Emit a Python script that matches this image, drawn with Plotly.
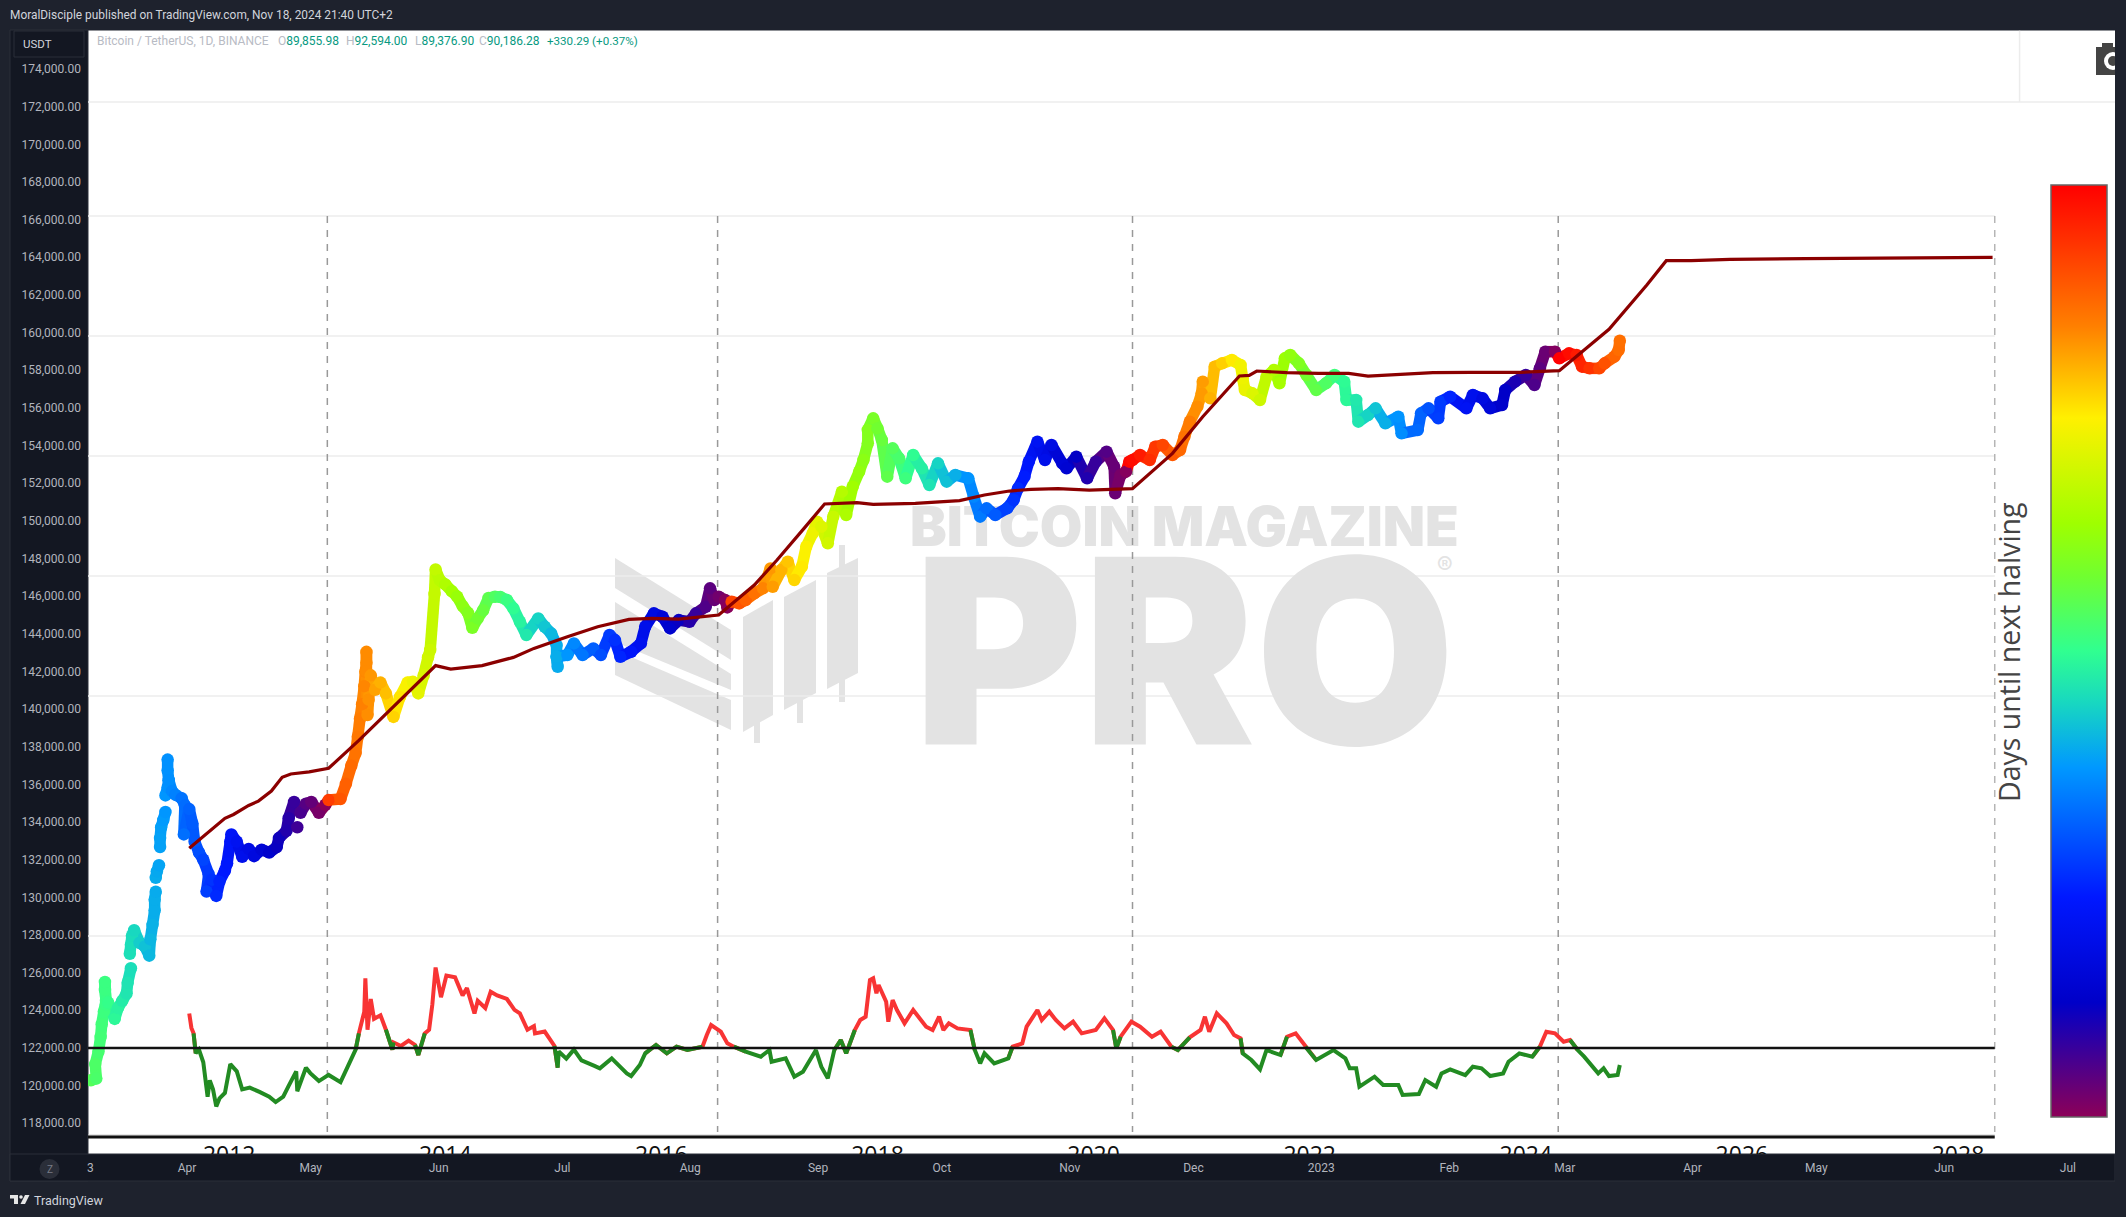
import plotly.graph_objects as go
from plotly.colors import sample_colorscale

W, H = 2126, 1217
GAP = (None, None)

# ---------- data (decimal year, value on the chart's price axis) ----------
btc_cycle1 = [(2010.72,120280),(2010.77,120370),(2010.76,121140),(2010.79,121810),(2010.81,122580),(2010.82,123260),
 (2010.84,123930),(2010.86,124500),(2010.85,125080),(2010.85,125500),(2010.86,124310),(2010.88,124410),(2010.94,123540),
 (2010.97,124120),(2011.01,124500),(2011.05,124890),(2011.06,125460),(2011.09,126230),GAP,(2011.08,127000),(2011.09,127480),
 (2011.10,127960),(2011.12,128250),(2011.17,127580),(2011.22,127390),(2011.26,126900),(2011.27,127770),(2011.29,128540),
 (2011.31,129310),(2011.31,129880),(2011.32,130300),GAP,(2011.32,131035),(2011.33,131380),(2011.35,131707),GAP,
 (2011.36,132667),(2011.36,133148),(2011.37,133724),(2011.39,134108),(2011.41,134531),GAP,(2011.41,135415),(2011.43,135837),
 (2011.44,136221),(2011.43,136740),(2011.43,137316),GAP,(2011.44,136221),(2011.47,135645),(2011.50,135453),(2011.56,135261),
 (2011.59,134877),(2011.58,133340),(2011.63,134685),(2011.66,133916),(2011.68,132956),(2011.72,132380),(2011.76,131995),
 (2011.81,131227),(2011.79,130305),(2011.84,130939),(2011.88,130074),(2011.91,130843),(2011.96,131419),(2011.98,131803),
 (2012.01,132956),(2012.02,133340),(2012.07,132956),(2012.12,132149),(2012.18,132572),(2012.23,132187),(2012.30,132533),
 (2012.37,132379),(2012.44,132668),(2012.46,133148),(2012.53,133532),(2012.55,134204),(2012.60,135069),GAP,(2012.63,133724),
 GAP,(2012.66,134492),(2012.71,134973),(2012.76,135069),(2012.83,134492),(2012.89,134915)]
btc_cycle2 = [(2012.92,135165),(2013.03,135222),(2013.08,136030),(2013.13,136990),(2013.17,137662),(2013.19,138527),
 (2013.21,139487),(2013.23,140255),(2013.25,141216),(2013.26,141984),(2013.27,142465),(2013.27,143041),(2013.27,142000),
 (2013.28,139679),(2013.29,140500),(2013.31,141792),(2013.35,141024),(2013.40,141408),(2013.45,140832),(2013.52,139583),
 (2013.58,140640),(2013.65,141408),(2013.70,141447),(2013.75,140832),(2013.80,141792),(2013.84,142753),(2013.86,143137),
 (2013.90,146116),(2013.91,147412),(2013.95,146836),(2014.00,146620),(2014.06,146260),(2014.11,145972),(2014.16,145468),
 (2014.21,145107),(2014.25,144315),(2014.30,144819),(2014.35,145251),(2014.40,145899),(2014.46,145971),(2014.51,145950),
 (2014.57,145791),(2014.63,145348),(2014.69,144640),(2014.75,143932),(2014.86,144817),(2014.92,144374),(2014.98,144020),
 (2015.03,143400),(2015.03,142780),(2015.04,142249),(2015.03,142780),(2015.13,142869),(2015.19,143489),(2015.27,142869),
 (2015.37,143223),(2015.44,142869),(2015.52,143932),(2015.57,143666),(2015.62,142780),(2015.72,143046),(2015.81,143489),
 (2015.85,144374),(2015.93,145083),(2016.01,144905),(2016.08,144286),(2016.16,144728),(2016.26,144640),(2016.32,145083),
 (2016.41,145437),(2016.45,146411),(2016.49,145791),(2016.53,145968),(2016.59,145791),(2016.61,145401)]
btc_cycle3 = [(2016.65,145702),(2016.72,145613),(2016.78,145791),(2016.86,146145),(2016.94,146411),(2017.01,147473),
 (2017.03,146499),(2017.11,147385),(2017.17,147828),(2017.23,146854),(2017.30,147562),(2017.34,148625),(2017.40,149333),
 (2017.44,149953),(2017.48,149687),(2017.54,148802),(2017.59,150218),(2017.67,151547),(2017.71,150307),(2017.77,151812),
 (2017.83,152609),(2017.87,153229),(2017.91,154115),(2017.91,154823),(2017.96,155443),(2018.00,154912),(2018.04,154292),
 (2018.09,152344),(2018.14,153849),(2018.20,153318),(2018.26,152255),(2018.33,153495),(2018.41,152786),(2018.48,151901),
 (2018.56,153052),(2018.64,152078),(2018.72,152432),(2018.84,152255),(2018.89,151281),(2018.95,150218),(2019.01,150661),
 (2019.09,150307),(2019.20,150661),(2019.26,151104),(2019.30,151724),(2019.36,152344),(2019.40,153141),(2019.48,154203),
 (2019.55,153229),(2019.61,154026),(2019.71,153052),(2019.75,152786),(2019.84,153406),(2019.94,152255),(2020.02,153141),
 (2020.12,153672),(2020.19,152875),(2020.20,151458),(2020.25,152433),(2020.30,152609)]
btc_cycle4 = [(2020.33,153141),(2020.36,153228),(2020.43,153494),(2020.52,153228),(2020.57,153937),(2020.64,154025),
 (2020.73,153494),(2020.80,153760),(2020.84,154468),(2020.89,155265),(2020.96,156062),(2021.00,156770),(2021.01,157390),
 (2021.08,156505),(2021.12,158187),(2021.19,158364),(2021.28,158541),(2021.36,158276),(2021.38,157567),(2021.40,156947),
 (2021.47,156770),(2021.54,156416),(2021.60,157656),(2021.67,158010),(2021.72,157302),(2021.77,158630),(2021.82,158807),
 (2021.90,158364),(2021.97,157744),(2022.06,156947),(2022.15,157302),(2022.23,157744),(2022.32,157390),(2022.34,156416),
 (2022.43,156416),(2022.45,155265),(2022.54,155619),(2022.61,155973),(2022.70,155176),(2022.82,155530),(2022.85,154645),
 (2023.00,154822),(2023.03,155708),(2023.10,155973),(2023.19,155442),(2023.21,156328),(2023.30,156593),(2023.45,155973),
 (2023.51,156682),(2023.60,156505),(2023.67,155973),(2023.78,156150),(2023.81,156947),(2023.90,157390),(2024.00,157744),
 (2024.08,157213),(2024.13,158098),(2024.18,158984),(2024.27,158984)]
btc_cycle5 = [(2024.31,158630),(2024.40,158895),(2024.47,158807),(2024.52,158187),(2024.59,158098),(2024.68,158098),
 (2024.73,158364),(2024.82,158718),(2024.86,159072),(2024.87,159568)]

ma_points = [(2011.63,132610),(2011.96,134200),(2012.04,134400),(2012.18,134880),(2012.27,135110),(2012.39,135645),
 (2012.49,136375),(2012.57,136550),(2012.74,136660),(2012.92,136855),(2013.20,138335),(2013.91,142310),(2014.05,142120),
 (2014.34,142310),(2014.63,142745),(2014.82,143223),(2015.13,143843),(2015.41,144374),(2015.70,144764),(2015.91,144817),
 (2016.16,144782),(2016.37,144905),(2016.53,144994),(2016.86,146588),(2017.07,147916),(2017.32,149599),(2017.51,150892),
 (2017.81,150962),(2017.96,150874),(2018.35,150927),(2018.76,151069),(2018.99,151370),(2019.22,151582),(2019.42,151671),
 (2019.67,151706),(2019.96,151635),(2020.36,151705),(2020.73,153582),(2021.01,155530),(2021.35,157691),(2021.44,157727),
 (2021.51,157957),(2021.79,157868),(2022.08,157833),(2022.36,157833),(2022.54,157691),(2022.85,157797),(2023.14,157868),
 (2023.49,157886),(2023.95,157886),(2024.31,157975),(2024.54,159072),(2024.77,160170),(2025.12,162526),(2025.30,163819),
 (2025.53,163819),(2025.89,163890),(2026.59,163925),(2027.30,163960),(2028.32,163996)]

osc_points = [(2011.63,123831),(2011.65,123063),(2011.67,122774),(2011.69,121718),(2011.72,121910),(2011.76,121238),
 (2011.80,119412),(2011.82,120277),(2011.85,119797),(2011.88,118894),(2011.91,119317),(2011.96,119605),(2012.01,121142),
 (2012.07,120757),(2012.12,119797),(2012.19,119893),(2012.28,119662),(2012.37,119413),(2012.43,119124),(2012.50,119413),
 (2012.55,119989),(2012.62,120757),(2012.63,119701),(2012.71,120950),(2012.75,120662),(2012.83,120239),(2012.92,120565),
 (2013.03,120181),(2013.10,121046),(2013.17,121910),(2013.20,122774),(2013.25,123927),(2013.26,125694),(2013.28,122966),
 (2013.31,124599),(2013.34,123543),(2013.40,123735),(2013.45,122966),(2013.51,121910),(2013.52,122293),(2013.59,122102),
 (2013.66,122390),(2013.72,122160),(2013.75,121622),(2013.81,122774),(2013.85,122966),(2013.88,124312),(2013.91,126271),
 (2013.96,124695),(2014.01,125848),(2014.09,125752),(2014.16,124791),(2014.20,125175),(2014.27,123831),(2014.30,124503),
 (2014.37,124119),(2014.42,124983),(2014.48,124791),(2014.57,124599),(2014.64,124023),(2014.69,123831),(2014.76,122966),
 (2014.82,123159),(2014.83,122774),(2014.92,122870),(2015.01,122102),(2015.04,120949),(2015.05,121813),(2015.12,121430),
 (2015.19,121910),(2015.26,121334),(2015.38,121046),(2015.43,120914),(2015.54,121445),(2015.68,120648),(2015.72,120507),
 (2015.80,121091),(2015.85,121711),(2015.95,122154),(2016.05,121711),(2016.14,122065),(2016.24,121888),(2016.38,122065),
 (2016.42,122685),(2016.46,123216),(2016.55,122862),(2016.61,122242),(2016.67,122065),(2016.78,121799),(2016.92,121534),
 (2017.00,121888),(2017.02,121268),(2017.15,121445),(2017.23,120471),(2017.31,120737),(2017.43,121888),(2017.48,121002),
 (2017.54,120383),(2017.60,121888),(2017.66,122419),(2017.71,121711),(2017.79,122951),(2017.84,123482),(2017.89,123659),
 (2017.93,125607),(2017.96,125696),(2017.99,124899),(2018.01,125341),(2018.08,124456),(2018.10,123393),(2018.14,124544),
 (2018.18,124013),(2018.25,123305),(2018.33,124013),(2018.45,123128),(2018.51,122951),(2018.57,123659),(2018.61,122951),
 (2018.66,123305),(2018.74,123039),(2018.86,122951),(2018.90,121888),(2018.95,121180),(2018.99,121711),(2019.08,121180),
 (2019.21,121445),(2019.25,122065),(2019.34,122242),(2019.38,123128),(2019.48,124013),(2019.52,123482),(2019.59,123925),
 (2019.65,123482),(2019.73,123039),(2019.81,123393),(2019.89,122773),(2020.02,122951),(2020.10,123570),(2020.18,122951),
 (2020.21,121976),(2020.25,122596),(2020.35,123393),(2020.43,123128),(2020.54,122596),(2020.62,122862),(2020.72,122065),
 (2020.78,121888),(2020.89,122561),(2020.99,122951),(2021.03,123659),(2021.07,122862),(2021.14,123836),(2021.23,123305),
 (2021.30,122685),(2021.36,122508),(2021.38,121711),(2021.46,121357),(2021.54,120861),(2021.60,121888),(2021.73,121622),
 (2021.79,122596),(2021.87,122774),(2021.96,122065),(2022.06,121357),(2022.22,121888),(2022.33,121445),(2022.37,120914),
 (2022.43,120914),(2022.46,119940),(2022.60,120471),(2022.68,120028),(2022.82,120028),(2022.86,119497),(2023.01,119550),
 (2023.07,120294),(2023.17,119940),(2023.22,120648),(2023.30,120861),(2023.44,120560),(2023.51,121003),(2023.59,120914),
 (2023.67,120507),(2023.79,120648),(2023.84,121268),(2023.94,121711),(2024.06,121534),(2024.13,122065),(2024.19,122862),
 (2024.27,122774),(2024.35,122331),(2024.41,122419),(2024.48,121888),(2024.54,121534),(2024.60,121144),(2024.67,120648),
 (2024.72,120914),(2024.77,120507),(2024.85,120560),(2024.87,121091)]

price_ticks = list(range(118000, 176000, 2000))
year_labels = [2012, 2014, 2016, 2018, 2020, 2022, 2024, 2026, 2028]
month_dates = ["2022-04-01","2022-05-01","2022-06-01","2022-07-01","2022-08-01","2022-09-01","2022-10-01","2022-11-01",
               "2022-12-01","2023-01-01","2023-02-01","2023-03-01","2023-04-01","2023-05-01","2023-06-01","2023-07-01"]
month_labels = ["Apr","May","Jun","Jul","Aug","Sep","Oct","Nov","Dec","2023","Feb","Mar","Apr","May","Jun","Jul"]
halving_lines = [2012.908, 2016.52, 2020.36, 2024.30, 2028.34]
colour_halvings = [2012.90, 2016.62, 2020.32, 2024.30, 2028.34]
oscillator_mid = 122000
grid_levels = [166191, 159817, 153443, 147068, 140694, 127945]

colorscale = [[0,"#8c0058"],[.123,"#0000c8"],[.236,"#0018ff"],[.375,"#0098ff"],[.445,"#18d8c0"],[.50,"#30ff90"],
              [.58,"#70ff30"],[.637,"#9fff00"],[.75,"#fff000"],[.848,"#ff8000"],[.941,"#ff3000"],[1,"#ff0000"]]
DAYS_MAX = 1460

# ---------- axes calibration ----------
x_range = [2010.693, 2029.453]
y_range = [116365, 176045]
def px(x): return x / W
def py(y): return 1 - y / H

def days_until(yr):
    nxt = next(h for h in colour_halvings if h >= yr)
    return (nxt - yr) * 365.25

fig = go.Figure()

# ---------- watermark (beneath everything) ----------
WM = "#e3e3e3"
fig.add_trace(go.Scatter(x=[2020.84], y=[149380], mode="text", text=["BITCOIN MAGAZINE"],
                         textfont=dict(family="Inter", size=55, color=WM, weight=900), hoverinfo="skip"))
fig.add_trace(go.Scatter(x=[2020.84], y=[141544], mode="text", text=["PRO"],
                         textfont=dict(family="Inter", size=258, color=WM, weight=900), hoverinfo="skip"))
fig.add_trace(go.Scatter(x=[2023.25], y=[147493], mode="text", text=["®"],
                         textfont=dict(family="Inter", size=24, color=WM), hoverinfo="skip"))

# ---------- halving markers ----------
for i, h in enumerate(halving_lines):
    fig.add_trace(go.Scatter(x=[h, h], y=[166191, 117532], mode="lines", hoverinfo="skip",
                             line=dict(color="#999999" if i < 4 else "#b5b5b5", width=1.5, dash="7px,7px")))

# ---------- BTC coloured path ----------
all_btc = btc_cycle1 + btc_cycle2 + btc_cycle3 + btc_cycle4 + btc_cycle5
for a, b in zip(all_btc[:-1], all_btc[1:]):
    if a[0] is None or b[0] is None:
        continue
    col = sample_colorscale(colorscale, [min(1, days_until(b[0]) / DAYS_MAX)])[0]
    fig.add_trace(go.Scatter(x=[a[0], b[0]], y=[a[1], b[1]], mode="lines", hoverinfo="skip",
                             line=dict(color=col, width=11.5)))
pts = [p for p in all_btc if p[0] is not None]
fig.add_trace(go.Scatter(
    x=[p[0] for p in pts], y=[p[1] for p in pts], mode="markers", hoverinfo="skip",
    marker=dict(size=12.5, color=[days_until(p[0]) for p in pts], colorscale=colorscale, cmin=0, cmax=DAYS_MAX,
                line=dict(width=0),
                colorbar=dict(x=px(2051), xanchor="left", y=py(185), yanchor="top", lenmode="pixels", len=932,
                              thicknessmode="pixels", thickness=56, xpad=0, ypad=0, outlinecolor="#666666",
                              outlinewidth=1.5, ticks="", showticklabels=False, borderwidth=0))))

# ---------- moving average line ----------
fig.add_trace(go.Scatter(x=[p[0] for p in ma_points], y=[p[1] for p in ma_points], mode="lines",
                         hoverinfo="skip", line=dict(color="#8b0000", width=3.2)))

# ---------- oscillator ----------
ox = [p[0] for p in osc_points]
oy = [p[1] for p in osc_points]
def near_above(i):
    return any(oy[j] >= oscillator_mid for j in (i - 1, i, i + 1) if 0 <= j < len(oy))
red_y = [oy[i] if near_above(i) else None for i in range(len(oy))]
green_y = [oy[i] if (oy[i] < oscillator_mid or
                     (i > 0 and oy[i - 1] < oscillator_mid) or
                     (i + 1 < len(oy) and oy[i + 1] < oscillator_mid)) else None for i in range(len(oy))]
fig.add_trace(go.Scatter(x=ox, y=red_y, mode="lines", hoverinfo="skip", line=dict(color="#f83434", width=4)))
fig.add_trace(go.Scatter(x=ox, y=green_y, mode="lines", hoverinfo="skip", line=dict(color="#228b22", width=4)))

# ---------- reference lines ----------
fig.add_trace(go.Scatter(x=[x_range[0], 2028.34], y=[oscillator_mid] * 2, mode="lines", hoverinfo="skip",
                         line=dict(color="#111111", width=2.5)))
fig.add_trace(go.Scatter(x=[x_range[0], 2028.34], y=[117267] * 2, mode="lines", hoverinfo="skip",
                         line=dict(color="#111111", width=3)))

# ---------- clipped year labels ----------
fig.add_trace(go.Scatter(x=year_labels, y=[116180] * len(year_labels), mode="text",
                         text=[str(v) for v in year_labels], hoverinfo="skip", cliponaxis=True,
                         textfont=dict(family="Open Sans", size=23, color="#111111")))

# ---------- trace carrying the month axis ----------
fig.add_trace(go.Scatter(x=month_dates, y=[y_range[0]] * len(month_dates), xaxis="x2", mode="lines",
                         opacity=0, hoverinfo="skip", showlegend=False))

# ---------- chrome ----------
PANEL = "#131722"
FRAME = "#2a2e39"
def rect(x0, y0, x1, y1, fill, line=None, layer="below"):
    return dict(type="rect", xref="paper", yref="paper", x0=px(x0), x1=px(x1), y0=py(y0), y1=py(y1),
                fillcolor=fill, line=dict(color=line or fill, width=1 if line else 0), layer=layer)
def poly(points, fill=WM, layer="below"):
    d = "M " + " L ".join(f"{px(x):.5f} {py(y):.5f}" for x, y in points) + " Z"
    return dict(type="path", path=d, xref="paper", yref="paper", fillcolor=fill, line=dict(width=0), layer=layer)
def circle(cx, cy, r, fill, layer="above"):
    return dict(type="circle", xref="paper", yref="paper", x0=px(cx - r), x1=px(cx + r), y0=py(cy + r), y1=py(cy - r),
                fillcolor=fill, line=dict(width=0), layer=layer)

shapes = [
    rect(10, 30, 88, 1181, PANEL, FRAME),
    rect(10, 1154, 2115, 1181, PANEL, FRAME),
    rect(14, 31, 84, 57, PANEL, FRAME),
    # logo
    poly([(615,558),(731,630),(731,660),(615,588)]),
    poly([(615,602),(731,674),(731,690),(615,642)]),
    poly([(615,650),(731,700),(731,730),(615,675)]),
    poly([(743,617),(773,600),(773,715),(743,732)]),
    poly([(754,620),(760,620),(760,743),(754,743)]),
    poly([(784,597),(816,580),(816,693),(784,710)]),
    poly([(797,590),(803,590),(803,723),(797,723)]),
    poly([(827,573),(858,558),(858,673),(827,689)]),
    poly([(839,545),(845,545),(845,702),(839,702)]),
]
for lvl in grid_levels:
    shapes.append(dict(type="line", xref="x", yref="y", x0=x_range[0], x1=2028.34, y0=lvl, y1=lvl,
                       line=dict(color="#ececec", width=1.5), layer="below"))
shapes += [
    dict(type="line", xref="x", yref="y", x0=x_range[0], x1=x_range[1], y0=172247, y1=172247,
         line=dict(color="#ececec", width=1.5), layer="below"),
    dict(type="line", xref="x", yref="y", x0=2028.57, x1=2028.57, y0=172247, y1=y_range[1],
         line=dict(color="#ececec", width=1.5), layer="below"),
    dict(type="line", xref="x", yref="y", x0=x_range[0], x1=2028.34, y0=117374, y1=117374,
         line=dict(color="#cccccc", width=1), layer="below"),
    # camera icon
    dict(type="rect", xref="paper", yref="paper", x0=px(2096), x1=px(2115), y0=py(75), y1=py(47),
         fillcolor="#444444", line=dict(width=0), layer="above"),
    dict(type="rect", xref="paper", yref="paper", x0=px(2102), x1=px(2113), y0=py(50), y1=py(43),
         fillcolor="#444444", line=dict(width=0), layer="above"),
    circle(2113, 61, 9, "#ffffff"),
    circle(2113, 61, 5, "#444444"),
    dict(type="rect", xref="paper", yref="paper", x0=px(2115), x1=1, y0=py(1217), y1=py(30),
         fillcolor="#1e222d", line=dict(width=0), layer="above"),
    # Z button and TradingView glyph
    circle(49.5, 1169, 10, "#2a2e39"),
    poly([(10,1195),(18,1195),(18,1204),(14,1204),(14,1198.5),(10,1198.5)], "#e6e6e6", "above"),
    circle(21, 1197, 1.8, "#e6e6e6"),
    poly([(25,1195),(29.5,1195),(25,1204),(20.5,1204)], "#e6e6e6", "above"),
]

LIGHT = "#d1d4dc"
AXIS = "#b2b5be"
TEAL = "#089981"
LEG = "#b8bbc4"
def note(x, y, text, color=LIGHT, size=12, anchor="left", family="Roboto", angle=0):
    return dict(xref="paper", yref="paper", x=px(x), y=py(y), text=text, showarrow=False, xanchor=anchor,
                yanchor="middle", textangle=angle, font=dict(family=family, size=size, color=color))
def ohlc(letter, value):
    return f'<span style="color:{LEG}">{letter}</span><span style="color:{TEAL}">{value}</span>'

annotations = [
    note(7.5, 15, "MoralDisciple published on TradingView.com, Nov 18, 2024 21:40 UTC+2", size=11.9),
    note(37, 44, "USDT", anchor="center", size=11.5),
    note(95, 41.5, "Bitcoin / TetherUS, 1D, BINANCE", LEG),
    note(276, 41.5, ohlc("O", "89,855.98")),
    note(344, 41.5, ohlc("H", "92,594.00")),
    note(413, 41.5, ohlc("L", "89,376.90")),
    note(477, 41.5, ohlc("C", "90,186.28")),
    note(545, 41.5, "+330.29 (+0.37%)", TEAL, size=11.6),
    note(84.5, 1168, "3", AXIS),
    note(49.5, 1169, "Z", "#787b86", size=10, anchor="center"),
    note(32, 1200, "TradingView", LIGHT, size=12.5),
    note(2009, 652, "Days until next halving", "#444444", size=28.5, anchor="center", family="Open Sans", angle=-90),
]

fig.update_layout(
    width=W, height=H, autosize=False,
    margin=dict(l=0, r=0, t=0, b=0, pad=0, autoexpand=False),
    paper_bgcolor="#1e222d", plot_bgcolor="#ffffff",
    showlegend=False, hovermode=False,
    shapes=shapes, annotations=annotations,
    xaxis=dict(domain=[px(88), px(2115)], range=x_range, visible=False, fixedrange=True),
    yaxis=dict(domain=[py(1154), py(30.5)], range=y_range, anchor="x", showgrid=False, zeroline=False, showline=False,
               tickmode="array", tickvals=price_ticks, ticktext=[f"{v:,.2f}" for v in price_ticks],
               tickfont=dict(family="Roboto", size=12, color=AXIS), ticks="", ticklabelstandoff=6, fixedrange=True),
    xaxis2=dict(domain=[px(88), px(2115)], overlaying="x", anchor="y", side="bottom", type="date",
                range=["2022-03-08", "2023-07-12 10:00"], showgrid=False, zeroline=False, showline=False,
                tickmode="array", tickvals=month_dates, ticktext=month_labels, ticks="",
                tickfont=dict(family="Roboto", size=12, color=AXIS), ticklabelstandoff=5, fixedrange=True),
)

fig.write_html("out.html", config={"displayModeBar": False},
               post_script="document.body.style.margin='0';document.body.style.background='#1e222d';document.body.style.overflow='hidden';")
